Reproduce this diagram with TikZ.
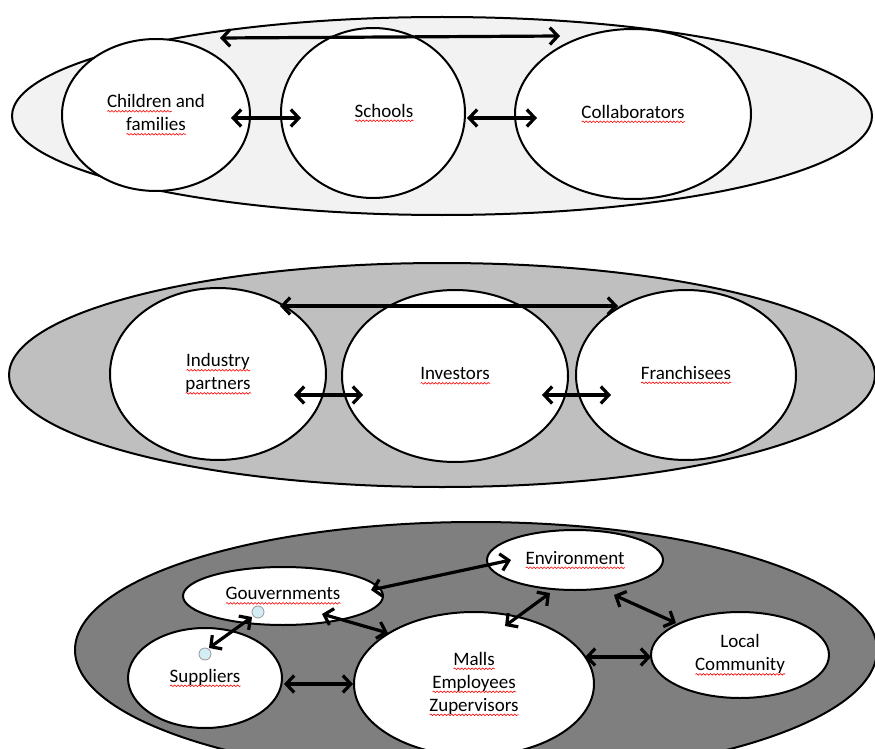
\documentclass[tikz,border=0pt]{standalone}
\usepackage{fontspec}
\setmainfont{Carlito}
\usetikzlibrary{arrows.meta,positioning,shapes.geometric,decorations.pathmorphing}
\definecolor{tierlight}{HTML}{F2F2F2}
\definecolor{tiermid}{HTML}{BFBFBF}
\definecolor{tierdark}{HTML}{7F7F7F}
\definecolor{handle}{HTML}{D4ECF4}
\newcommand\spell[1]{\setbox0=\hbox{#1}\rlap{\tikz[baseline=0pt]{\draw[red,line width=0.6pt,decorate,decoration={snake,amplitude=0.8pt,segment length=3.5pt}] (0pt,-3.5pt) -- (\the\wd0,-3.5pt);}}\copy0\relax}

\begin{document}
\begin{tikzpicture}[
  x=1pt, y=-1pt, font=\fontsize{19}{23}\selectfont,
  tier/.style={draw,ellipse,line width=2pt,inner sep=0pt},
  party/.style={draw,ellipse,line width=2pt,fill=white,inner sep=0pt,align=center},
  link/.style={{Straight Barb[length=8pt,width=17pt]}-{Straight Barb[length=8pt,width=17pt]},line width=3.2pt},
  grip/.style={draw=gray!80,fill=handle,circle,inner sep=0pt,minimum size=12pt,line width=0.8pt},
]
\path[use as bounding box,fill=white] (0,0) rectangle (875,749);
\clip (0,0) rectangle (875,749);

\node[tier,fill=tierlight,minimum width=860,minimum height=198] (tierA) at (442,116) {};
\node[party,minimum width=188,minimum height=152] (children) at (156,115) {\spell{Children} and\\\spell{families}};
\node[party,minimum width=184,minimum height=170] (schools) at (373,113) {\hspace*{22pt}\spell{Schools}};
\node[party,minimum width=236,minimum height=170] (collab) at (633,114) {\spell{Collaborators}};

\draw[link] ([shift={(64,0)}]children.north) -- ([shift={(-73,8)}]collab.north);
\draw[link] ([shift={(-20,3)}]children.east) -- ([shift={(21,5)}]schools.west);
\draw[link] ([shift={(1,5)}]schools.east) -- ([shift={(23,4)}]collab.west);

\node[tier,fill=tiermid,minimum width=866,minimum height=224] (tierB) at (442,375) {};
\node[party,minimum width=216,minimum height=172] (industry) at (218,374) {\spell{Industry}\\\spell{partners}};
\node[party,minimum width=226,minimum height=172] (investors) at (455,376) {\spell{Investors}};
\node[party,minimum width=220,minimum height=170] (franch) at (686,375) {\spell{Franchisees}};

\draw[link] ([shift={(62,19)}]industry.north) -- ([shift={(-68,17)}]franch.north);
\draw[link] ([shift={(-33,21)}]industry.east) -- ([shift={(22,19)}]investors.west);
\draw[link] ([shift={(-27,19)}]investors.east) -- ([shift={(36,20)}]franch.west);

\node[tier,fill=tierdark,minimum width=802,minimum height=256] (tierC) at (476,650) {};
\node[party,minimum width=200,minimum height=58] (gouv) at (283,596) {\spell{Gouvernments}};
\node[party,minimum width=176,minimum height=60] (env) at (575,560) {\spell{Environment}};
\node[party,minimum width=154,minimum height=100] (suppl) at (205,678) {\spell{Suppliers}};
\node[party,minimum width=240,minimum height=144] (malls) at (474,684) {\spell{Malls}\\\spell{Employees}\\\spell{Zupervisors}};
\node[party,minimum width=178,minimum height=86] (local) at (740,655) {Local\\\spell{Community}};

\node[grip] (gripG) at ([shift={(-25,-14)}]gouv.south) {};
\node[grip] (gripS) at ([shift={(0,27)}]suppl.north) {};

\draw[link] ([shift={(-13,-6)}]gouv.east) -- ([shift={(25,0)}]env.west);
\draw[link] ([shift={(39,-12)}]gouv.south) -- ([shift={(-86,22)}]malls.north);
\draw[link] ([shift={(-25,2)}]env.south) -- ([shift={(31,15)}]malls.north);
\draw[link] ([shift={(39,4)}]env.south) -- ([shift={(-64,12)}]local.north);
\draw[link] ([shift={(1,6)}]suppl.east) -- (malls.west);
\draw[link] ([shift={(-10,-27)}]malls.east) -- ([shift={(1,2)}]local.west);
\draw[link] ([shift={(4,21)}]suppl.north) -- ([shift={(-31,-9)}]gouv.south);
\end{tikzpicture}
\end{document}
